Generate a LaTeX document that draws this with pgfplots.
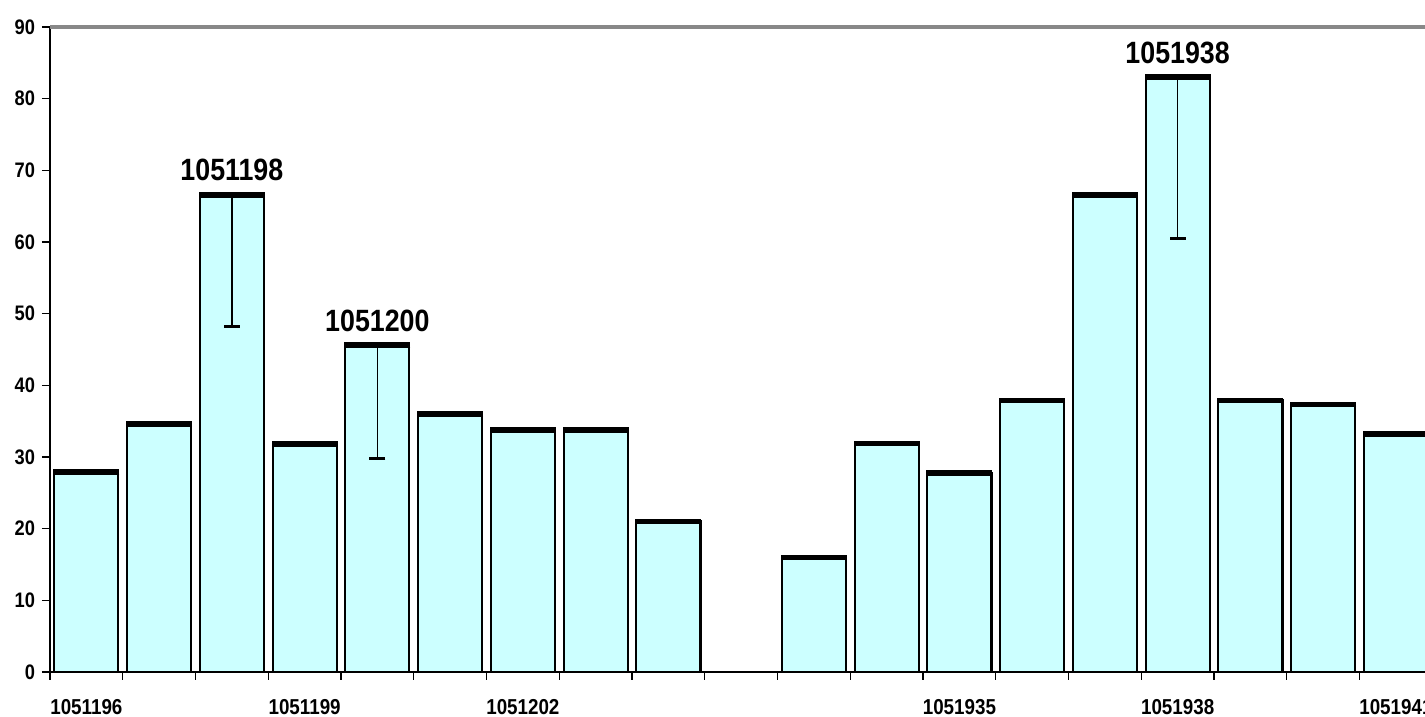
\documentclass[border=0pt]{standalone}
\usepackage{pgfplots}
\pgfplotsset{compat=1.18}
\usepackage{fontspec}
\setmainfont{Liberation Sans}
\newfontfamily\narrowfont[FakeStretch=0.87]{Liberation Sans}
\definecolor{barfill}{RGB}{204,255,255}
\definecolor{topgray}{RGB}{136,136,136}
\begin{document}
\begin{tikzpicture}
\useasboundingbox (0,0) rectangle (712.5pt,358.5pt);
\begin{axis}[
  at={(25pt,22.5pt)}, anchor=south west,
  scale only axis, width=687.5pt, height=322.5pt,
  xmin=-0.5, xmax=18.4, ymin=0, ymax=90,
  clip=false,
  axis x line*=bottom, axis y line*=left,
  axis line style={black, line width=1.2pt},
  ytick={0,10,...,90},
  xtick={-0.5,0.5,...,18.5},
  xticklabels={},
  extra x ticks={0,3,6,12,15,18},
  extra x tick labels={1051196,1051199,1051202,1051935,1051938,1051941},
  extra x tick style={major tick length=0pt,
     xticklabel style={anchor=north, yshift=-10pt, font=\narrowfont\bfseries\fontsize{10.8}{11}\selectfont}},
  tick align=outside,
  major tick length=4pt,
  tick style={black, line width=0.6pt},
  yticklabel style={font=\narrowfont\bfseries\fontsize{10.5}{11}\selectfont},
  /pgf/number format/assume math mode=true,
]
\addplot[ybar, bar width=0.88, bar shift=0pt, fill=barfill, draw=black, line width=1.1pt]
  coordinates {(0,27.9) (1,34.6) (2,66.6) (3,31.8) (4,45.6) (5,36.0) (6,33.8) (7,33.8) (8,21.0)
               (10,16.0) (11,31.9) (12,27.8) (13,37.9) (14,66.6) (15,83.0) (16,37.9) (17,37.3) (18,33.2)};
\addplot[only marks, mark=-, mark size=16.5pt, mark options={line width=2.8pt, black}]
  coordinates {(0,27.9) (1,34.6) (2,66.6) (3,31.8) (4,45.6) (5,36.0) (6,33.8) (7,33.8) (8,21.0)
               (10,16.0) (11,31.9) (12,27.8) (13,37.9) (14,66.6) (15,83.0) (16,37.9) (17,37.3) (18,33.2)};
\addplot[draw=none, mark=none,
  error bars/.cd, y dir=minus, y explicit,
  error bar style={draw=black, line width=0.75pt},
  error mark options={rotate=90, draw=black, mark size=4pt, line width=1.5pt}]
  coordinates {(2,66.6) -= (0,18.4) (4,45.6) -= (0,15.8) (15,83.0) -= (0,22.5)};
\draw[topgray, line width=1.75pt] (rel axis cs:0,1) -- (rel axis cs:1,1);
\node[anchor=base, yshift=7pt, font=\narrowfont\bfseries\fontsize{15.4}{16}\selectfont] at (axis cs:2,66.6) {1051198};
\node[anchor=base, yshift=7pt, font=\narrowfont\bfseries\fontsize{15.4}{16}\selectfont] at (axis cs:4,45.6) {1051200};
\node[anchor=base, yshift=7pt, font=\narrowfont\bfseries\fontsize{15.4}{16}\selectfont] at (axis cs:15,83.0) {1051938};
\end{axis}
\end{tikzpicture}
\end{document}
